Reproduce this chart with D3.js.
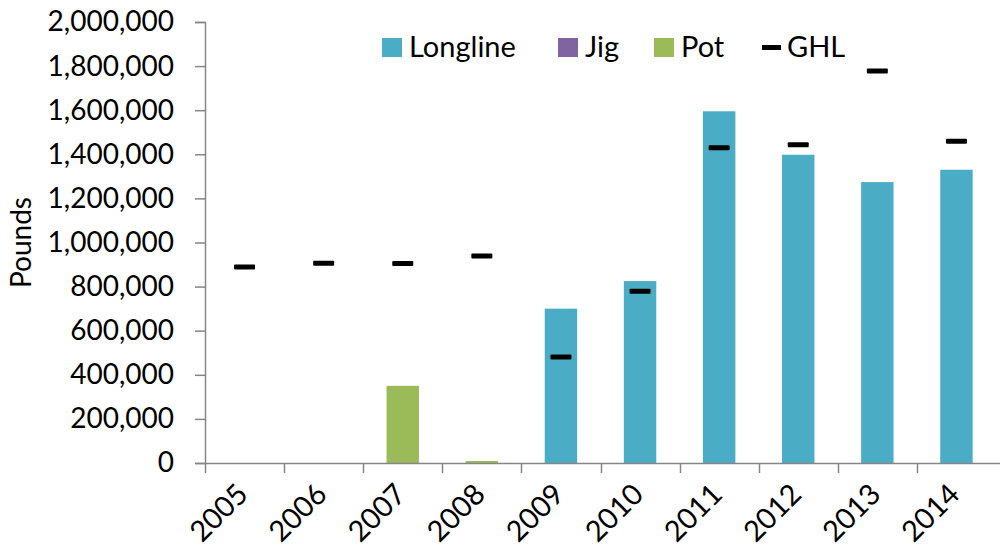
<!DOCTYPE html>
<html>
<head>
<meta charset="utf-8">
<script src="https://cdn.jsdelivr.net/npm/d3@7"></script>
<style>
  body { margin: 0; background: #fff; }
  text { font-family: Lato, "Open Sans", sans-serif; fill: #000; }
</style>
</head>
<body>
<div id="chart"></div>
<script>
// data
var years = ["2005", "2006", "2007", "2008", "2009", "2010", "2011", "2012", "2013", "2014"];
var longline = [0, 0, 0, 0, 700000, 825000, 1595000, 1398000, 1274000, 1330000];
var jig = [0, 0, 0, 0, 0, 0, 0, 0, 0, 0];
var pot = [0, 0, 350000, 9000, 0, 0, 0, 0, 0, 0];
var ghl = [889000, 906000, 905000, 939000, 481000, 779000, 1430000, 1443000, 1778000, 1459000];
var yTicks = [0, 200000, 400000, 600000, 800000, 1000000, 1200000, 1400000, 1600000, 1800000, 2000000];

var colors = { Longline: "#4bacc6", Jig: "#8064a2", Pot: "#9bbb59" };

function makeChart() {
    var svgWidth = 1003;
    var svgHeight = 552;
    var margin = { top: 22, right: 3, bottom: 89, left: 205 };
    var chartWidth = svgWidth - margin.left - margin.right;
    var chartHeight = svgHeight - margin.top - margin.bottom;

    var svg = d3.select("#chart").append("svg")
        .attr("width", svgWidth)
        .attr("height", svgHeight);

    var chartGroup = svg.append("g")
        .attr("transform", `translate(${margin.left}, ${margin.top})`);

    var xScale = d3.scaleBand().domain(years).range([0, chartWidth - 4]);
    var yScale = d3.scaleLinear().domain([0, 2000000]).range([chartHeight, 0]);

    var barW = xScale.bandwidth() * 0.41;

    // stacked series, drawn in order
    var series = [["Longline", longline], ["Jig", jig], ["Pot", pot]];
    var stackBase = years.map(() => 0);
    series.forEach(function(s) {
        var name = s[0], vals = s[1];
        chartGroup.append("g").selectAll("rect")
            .data(years)
            .enter().append("rect")
            .filter((d, i) => vals[i] > 0)
            .attr("x", d => xScale(d) + xScale.bandwidth() / 2 - barW / 2)
            .attr("width", barW)
            .attr("y", (d) => { var i = years.indexOf(d); return yScale(stackBase[i] + vals[i]); })
            .attr("height", (d) => { var i = years.indexOf(d); return yScale(stackBase[i]) - yScale(stackBase[i] + vals[i]); })
            .style("fill", colors[name]);
        vals.forEach((v, i) => stackBase[i] += v);
    });

    // GHL dashes
    chartGroup.append("g").selectAll("rect")
        .data(years)
        .enter().append("rect")
        .attr("x", d => xScale(d) + xScale.bandwidth() / 2 - 10.5)
        .attr("y", (d, i) => yScale(ghl[i]) - 2.5)
        .attr("width", 21)
        .attr("height", 5)
        .attr("rx", 1)
        .style("fill", "#000");

    // y axis
    var yAxis = d3.axisLeft(yScale).tickValues(yTicks).tickSize(10).tickPadding(21)
        .tickFormat(d3.format(","));
    var yg = chartGroup.append("g").call(yAxis);
    yg.selectAll("text").attr("font-size", "28px").style("fill", "#000");

    // x axis with ticks at band edges
    var xg = chartGroup.append("g").attr("transform", `translate(0, ${chartHeight})`);
    xg.append("line").attr("x1", 0).attr("x2", chartWidth).attr("y1", 0.5).attr("y2", 0.5);
    xg.selectAll(".tk").data(years).enter().append("line")
        .attr("x1", d => Math.round(xScale(d)) + 0.5)
        .attr("x2", d => Math.round(xScale(d)) + 0.5)
        .attr("y1", 0).attr("y2", 10);
    xg.selectAll("line").style("stroke", "#868686").style("stroke-width", 1.5);
    xg.selectAll(".lbl").data(years).enter().append("text")
        .attr("text-anchor", "end")
        .attr("font-size", "29px")
        .attr("transform", d => `translate(${xScale(d) + xScale.bandwidth() / 2 + 5}, 33) rotate(-45)`)
        .text(d => d);

    yg.select(".domain").style("stroke", "#868686").style("stroke-width", 1.5);
    yg.selectAll(".tick line").style("stroke", "#868686").style("stroke-width", 1.5);

    // y title
    svg.append("text")
        .attr("transform", `translate(31, ${margin.top + chartHeight / 2}) rotate(-90)`)
        .attr("text-anchor", "middle")
        .attr("font-size", "28px")
        .text("Pounds");

    // legend
    var legend = svg.append("g").attr("transform", "translate(382, 38)");
    var items = [["Longline", 0], ["Jig", 176], ["Pot", 272]];
    items.forEach(function(it) {
        legend.append("rect").attr("x", it[1]).attr("y", 0).attr("width", 20).attr("height", 19)
            .style("fill", colors[it[0]]);
        legend.append("text").attr("x", it[1] + 27).attr("y", 19).attr("font-size", "29px").text(it[0]);
    });
    legend.append("rect").attr("x", 380).attr("y", 7).attr("width", 19).attr("height", 5).style("fill", "#000");
    legend.append("text").attr("x", 405).attr("y", 19).attr("font-size", "29px").text("GHL");
}

makeChart();
</script>
</body>
</html>
